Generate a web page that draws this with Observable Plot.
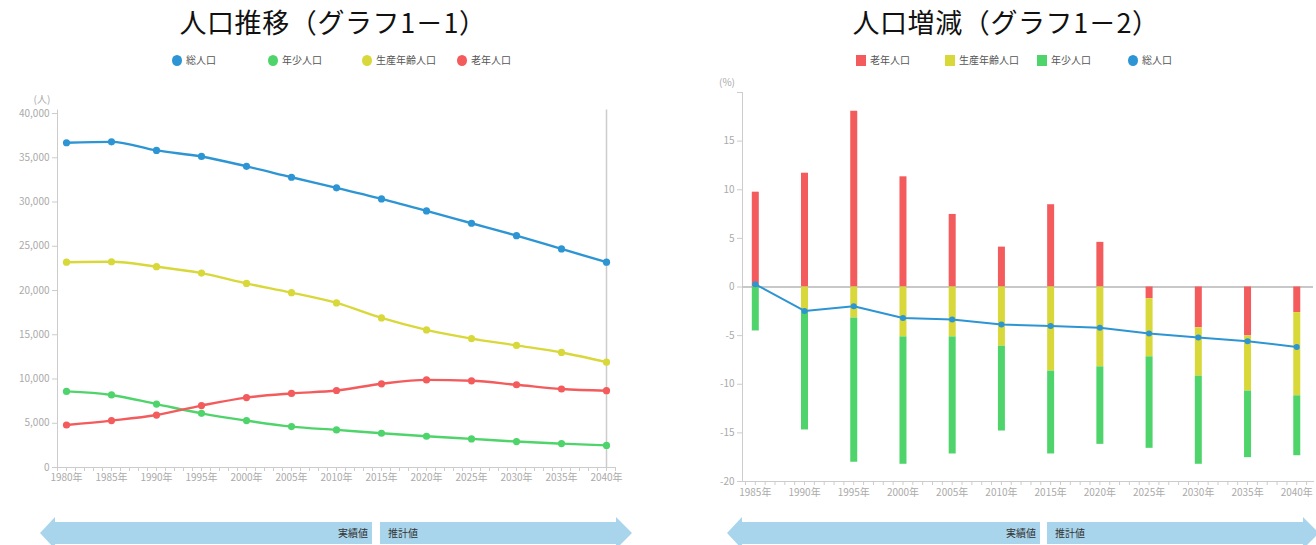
<!DOCTYPE html>
<html><head><meta charset="utf-8">
<script src="https://cdn.jsdelivr.net/npm/d3@7"></script>
<script src="https://cdn.jsdelivr.net/npm/@observablehq/plot@0.6"></script>
<style>
body{margin:0;width:1316px;height:545px;overflow:hidden;background:#fff;font-family:"Noto Sans CJK JP",sans-serif;position:relative}
.panel{position:absolute;top:0;width:658px;height:545px}
.panel svg{position:absolute;left:0;top:0}
.title{position:absolute;top:3px;font-size:27px;line-height:38px;letter-spacing:0.6px;color:#111;white-space:nowrap;transform:translateX(-50%)}
.leg{position:absolute;top:53px;height:14px;font-size:10px;line-height:14px;color:#555;display:flex;align-items:center;white-space:nowrap}
.sw{display:inline-block;width:10px;height:11px;margin-right:4px}
.unit{position:absolute;font-size:10px;color:#aaa;transform:translate(-50%,-50%)}
.arrow{position:absolute;background:#a9d5ec}
.alabel{position:absolute;font-size:10px;line-height:14px;color:#333;top:526px}
</style></head>
<body>
<script>
// ---- Data: graph 1-1 (population) ----
const years = [1980,1985,1990,1995,2000,2005,2010,2015,2020,2025,2030,2035,2040];
const totalPop   = [36700,36800,35830,35150,34030,32800,31600,30350,29000,27600,26200,24700,23200];
const youngPop   = [8600,8200,7170,6120,5300,4620,4250,3870,3530,3230,2930,2700,2500];
const workingPop = [23200,23250,22700,21970,20800,19760,18600,16900,15550,14570,13800,13000,11900];
const elderlyPop = [4800,5300,5930,7000,7900,8370,8700,9460,9900,9800,9350,8870,8680];
const popTicks = [0,5000,10000,15000,20000,25000,30000,35000,40000];

// ---- Data: graph 1-2 (change rate %) ----
const changeYears = [1985,1990,1995,2000,2005,2010,2015,2020,2025,2030,2035,2040];
const elderlyRate = [9.75,11.7,18.06,11.33,7.46,4.1,8.46,4.59,-1.2,-4.2,-5.03,-2.63];
const workingRate = [0,-2.39,-3.18,-5.13,-5.13,-6.09,-8.65,-8.21,-5.98,-4.97,-5.67,-8.56];
const youngRate   = [-4.52,-12.31,-14.85,-13.1,-12.04,-8.72,-8.52,-7.97,-9.41,-9.06,-6.85,-6.16];
const totalRate   = [0.28,-2.46,-1.98,-3.18,-3.35,-3.86,-4.0,-4.2,-4.79,-5.2,-5.57,-6.16];
const rateTicks = [-20,-15,-10,-5,0,5,10,15,20];

const seriesNames = ["総人口","年少人口","生産年齢人口","老年人口"];
const seriesColors = ["#2d95d3","#4fd46b","#d9d83a","#f35b5c"];
const font = '"Noto Sans CJK JP", sans-serif';

function el(tag, cls, parent, css, text){
  const e=document.createElement(tag); if(cls) e.className=cls;
  Object.assign(e.style, css||{}); if(text!=null) e.textContent=text; parent.appendChild(e); return e;
}
function legend(parent, items){
  for(const it of items){
    const d=el("div","leg",parent,{left:it.left+"px"});
    el("span","sw",d,{background:it.color,borderRadius:it.circle?"50%":"0"});
    el("span",null,d,{},it.name);
  }
}
function arrows(parent, a){
  el("div","arrow",parent,{left:a.x0+"px",top:"517px",width:(a.m1-a.x0)+"px",height:"32px",
    clipPath:"polygon(0 16px,15px 0,15px 5px,100% 5px,100% 27px,15px 27px,15px 32px)"});
  el("div","arrow",parent,{left:a.m2+"px",top:"517px",width:(a.x1-a.m2)+"px",height:"32px",
    clipPath:"polygon(0 5px,calc(100% - 16px) 5px,calc(100% - 16px) 0,100% 16px,calc(100% - 16px) 32px,calc(100% - 16px) 27px,0 27px)"});
  el("div","alabel",parent,{left:(a.m1-4)+"px",transform:"translateX(-100%)"},"実績値");
  el("div","alabel",parent,{left:(a.m2+8)+"px"},"推計値");
}

// ---------- Left panel ----------
const leftP = el("div","panel",document.body,{left:"0px"});
const popData=[];
[[ "総人口",totalPop],["年少人口",youngPop],["生産年齢人口",workingPop],["老年人口",elderlyPop]]
  .forEach(([n,arr])=>arr.forEach((v,i)=>popData.push({year:years[i],value:v,group:n})));

const leftSvg = Plot.plot({
  width:658, height:500, marginLeft:57, marginRight:43, marginTop:109.5, marginBottom:33,
  style:{fontFamily:font,fontSize:"10px",background:"transparent",color:"#aaa"},
  x:{type:"linear",domain:[1979,2041]},
  y:{domain:[0,40400]},
  color:{domain:seriesNames,range:seriesColors},
  marks:[
    Plot.frame({anchor:"left",stroke:"#ccc"}),
    Plot.ruleY([0],{stroke:"#ccc"}),
    Plot.ruleX([years[years.length-1]],{stroke:"#ccc",strokeWidth:1.5}),
    Plot.axisY({ticks:popTicks,tickFormat:d3.format(","),tickSize:5,tickPadding:3,stroke:"#ccc",fill:"#aaa",label:null}),
    Plot.axisX({ticks:d3.range(1979,2042),text:null,tickSize:4,stroke:"#ccc",label:null}),
    Plot.axisX({ticks:years,tickFormat:d=>d+"年",tickSize:0,tickPadding:6,fill:"#aaa",label:null}),
    Plot.line(popData,{x:"year",y:"value",stroke:"group",strokeWidth:2.4,curve:"monotone-x"}),
    Plot.dot(popData,{x:"year",y:"value",fill:"group",r:3.6})
  ]
});
leftP.appendChild(leftSvg);
el("div","title",leftP,{left:"333px"},"人口推移（グラフ1－1）");
legend(leftP,[
  {left:172,name:"総人口",color:seriesColors[0],circle:true},
  {left:268,name:"年少人口",color:seriesColors[1],circle:true},
  {left:362,name:"生産年齢人口",color:seriesColors[2],circle:true},
  {left:457,name:"老年人口",color:seriesColors[3],circle:true}
]);
el("div","unit",leftP,{left:"42px",top:"98px"},"(人)");
arrows(leftP,{x0:40,m1:372,m2:380,x1:632});

// ---------- Right panel ----------
const rightP = el("div","panel",document.body,{left:"658px"});
const rateData=[];
[["老年人口",elderlyRate],["生産年齢人口",workingRate],["年少人口",youngRate]]
  .forEach(([n,arr])=>arr.forEach((v,i)=>rateData.push({year:changeYears[i],value:v,group:n})));
const totalRateData = changeYears.map((y,i)=>({year:y,value:totalRate[i]}));

const rightSvg = Plot.plot({
  width:658, height:500, marginLeft:84, marginRight:3, marginTop:92, marginBottom:19,
  style:{fontFamily:font,fontSize:"10px",background:"transparent",color:"#aaa"},
  x:{type:"linear",domain:[1983.7,2041.7]},
  y:{domain:[-20,20]},
  color:{domain:seriesNames,range:seriesColors},
  marks:[
    Plot.frame({anchor:"left",stroke:"#ccc"}),
    Plot.frame({anchor:"bottom",stroke:"#ccc"}),
    Plot.ruleY([0],{stroke:"#c8c8c8",strokeWidth:2}),
    Plot.axisY({ticks:rateTicks,tickFormat:d=>d===20?"":String(d),tickSize:5,tickPadding:3,stroke:"#ccc",fill:"#aaa",label:null}),
    Plot.axisX({ticks:d3.range(1984,2042),text:null,tickSize:4,stroke:"#ccc",label:null}),
    Plot.axisX({ticks:changeYears,tickFormat:d=>d+"年",tickSize:0,tickPadding:7,fill:"#aaa",label:null}),
    Plot.ruleX(rateData,Plot.stackY({x:"year",y:"value",stroke:"group",strokeWidth:7})),
    Plot.line(totalRateData,{x:"year",y:"value",stroke:seriesColors[0],strokeWidth:2}),
    Plot.dot(totalRateData,{x:"year",y:"value",fill:seriesColors[0],r:3})
  ]
});
rightP.appendChild(rightSvg);
el("div","title",rightP,{left:"348px"},"人口増減（グラフ1－2）");
legend(rightP,[
  {left:198,name:"老年人口",color:seriesColors[3]},
  {left:287,name:"生産年齢人口",color:seriesColors[2]},
  {left:379,name:"年少人口",color:seriesColors[1]},
  {left:470,name:"総人口",color:seriesColors[0],circle:true}
]);
el("div","unit",rightP,{left:"69px",top:"81px"},"(%)");
arrows(rightP,{x0:69,m1:382,m2:389,x1:661});
</script>
</body></html>
